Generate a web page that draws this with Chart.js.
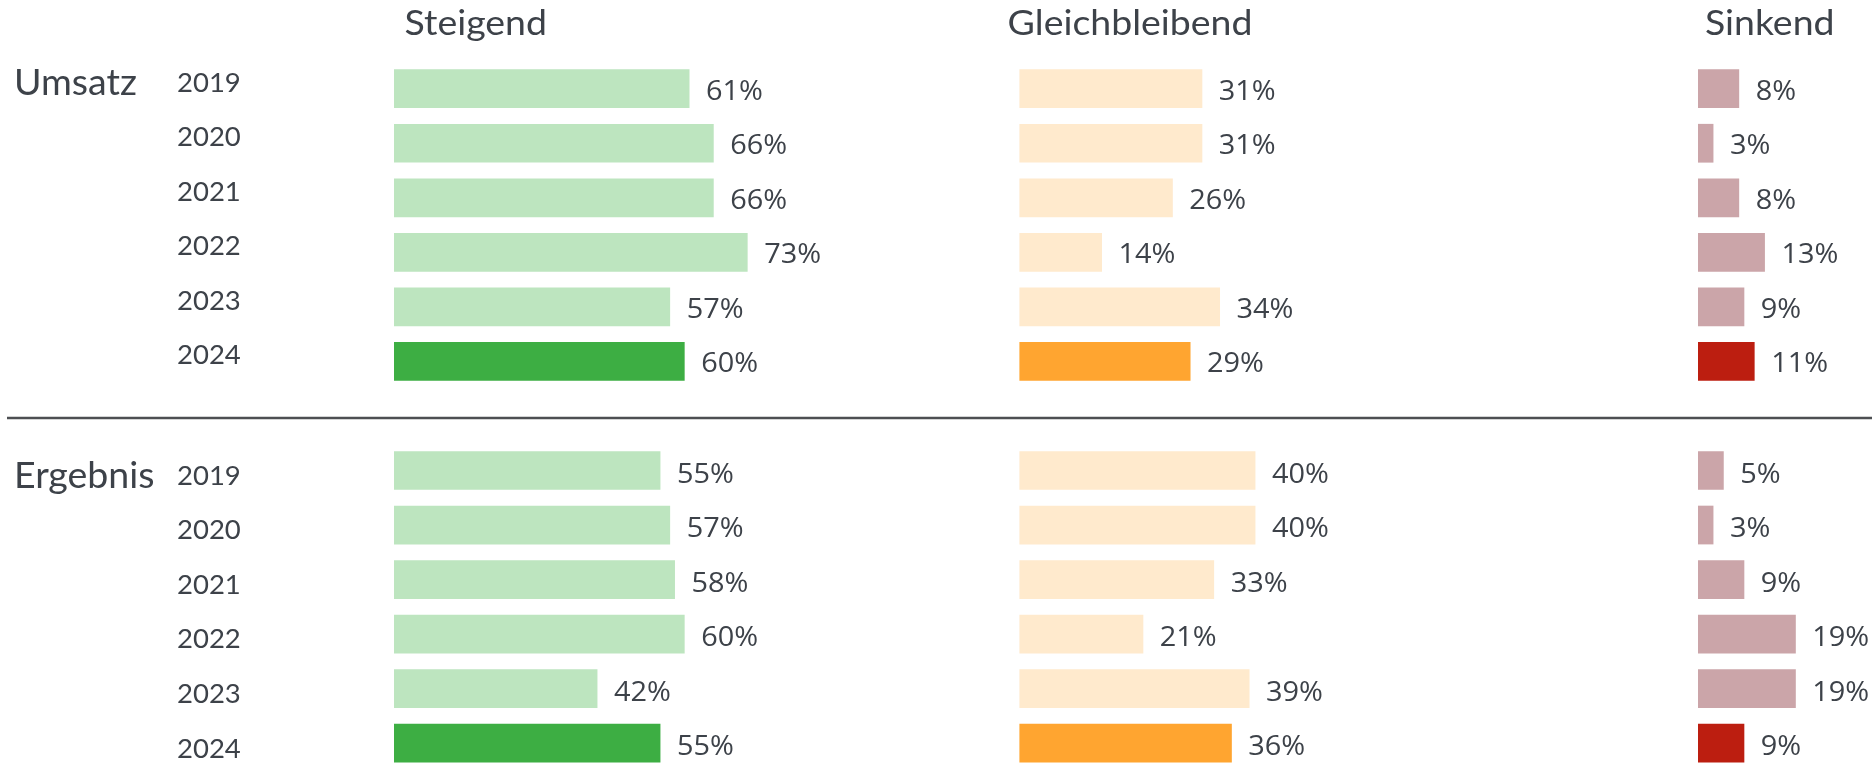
<!DOCTYPE html>
<html>
<head>
<meta charset="utf-8">
<script src="https://cdn.jsdelivr.net/npm/chart.js@4.4.1/dist/chart.umd.min.js"></script>
<style>
  html, body { margin: 0; padding: 0; background: #ffffff; overflow: hidden; }
  #wrap { position: relative; width: 1872px; height: 764px; }
</style>
</head>
<body>
<div id="wrap"><canvas id="c"></canvas></div>
<script>
// ---- data ----
const years = ['2019', '2020', '2021', '2022', '2023', '2024'];
const groups = ['Umsatz', 'Ergebnis'];
const columns = ['Steigend', 'Gleichbleibend', 'Sinkend'];

const umsatzSteigend   = [61, 66, 66, 73, 57, 60];
const umsatzGleich     = [31, 31, 26, 14, 34, 29];
const umsatzSinkend    = [8, 3, 8, 13, 9, 11];

const ergebnisSteigend = [55, 57, 58, 60, 42, 55];
const ergebnisGleich   = [40, 40, 33, 21, 39, 36];
const ergebnisSinkend  = [5, 3, 9, 19, 19, 9];

// ---- build chart structures ----
const categoryLabels = [...years, '', ...years];
const groupLabels = [groups[0], ...years.slice(1).map(() => ''), '', groups[1], ...years.slice(1).map(() => '')];
const joinGroups = (a, b) => [...a, null, ...b];
const lastYear = years[years.length - 1];

const TEXT = '#3d4249';
const LIGHT = ['#bde5bf', '#ffeacd', '#cba5a9'];
const DARK  = ['#3dae43', '#ffa530', '#bc1e10'];

const seriesData = [
  joinGroups(umsatzSteigend, ergebnisSteigend),
  joinGroups(umsatzGleich, ergebnisGleich),
  joinGroups(umsatzSinkend, ergebnisSinkend)
];

const datasets = columns.map((name, k) => ({
  label: name,
  data: seriesData[k],
  xAxisID: 'x' + (k + 1),
  yAxisID: 'y',
  grouped: false,
  clip: false,
  categoryPercentage: 1,
  barPercentage: 0.71,
  borderWidth: 0,
  backgroundColor: (ctx) => categoryLabels[ctx.dataIndex] === lastYear ? DARK[k] : LIGHT[k]
}));

function stretchedText(ctx, text, x, y, sx) {
  ctx.save();
  ctx.translate(x, y);
  ctx.scale(sx, 1);
  ctx.fillText(text, 0, 0);
  ctx.restore();
}

const valueLabels = {
  id: 'valueLabels',
  afterDatasetsDraw(chart) {
    const ctx = chart.ctx;
    ctx.save();
    ctx.font = '27px "Open Sans"';
    ctx.fillStyle = TEXT;
    ctx.textAlign = 'left';
    ctx.textBaseline = 'middle';
    chart.data.datasets.forEach((ds, di) => {
      const meta = chart.getDatasetMeta(di);
      meta.data.forEach((el, i) => {
        const v = ds.data[i];
        if (v === null || v === undefined) return;
        const dy = i < years.length ? 3.4 : 4.4;
        stretchedText(ctx, v + '%', el.x + 16.5, el.y + dy, 1.07);
      });
    });
    ctx.restore();
  }
};

const decorations = {
  id: 'decorations',
  afterDraw(chart, args, opts) {
    const ctx = chart.ctx;
    ctx.save();
    // divider between the two groups (at the empty category)
    const y = chart.scales.y.getPixelForValue(years.length) + 2;
    ctx.strokeStyle = '#4d4f52';
    ctx.lineWidth = 2.6;
    ctx.beginPath();
    ctx.moveTo(7, y);
    ctx.lineTo(chart.width, y);
    ctx.stroke();
    // column titles
    ctx.font = '35px Lato';
    ctx.fillStyle = TEXT;
    ctx.textAlign = 'center';
    ctx.textBaseline = 'alphabetic';
    columns.forEach((t, k) => stretchedText(ctx, t, opts.titleCentres[k], opts.titleBaseline, 1.07));
    ctx.restore();
  }
};

function build() {
  new Chart(document.getElementById('c'), {
    type: 'bar',
    data: { labels: categoryLabels, datasets },
    plugins: [valueLabels, decorations],
    options: {
      indexAxis: 'y',
      responsive: true,
      maintainAspectRatio: false,
      animation: false,
      events: [],
      layout: { padding: { left: 14, right: 0, top: 88.7, bottom: 20.8 } },
      plugins: {
        legend: { display: false },
        tooltip: { enabled: false },
        decorations: { titleCentres: [475.8, 1130, 1769.7], titleBaseline: 34.8 }
      },
      scales: {
        x1: { type: 'linear', position: 'bottom', stack: 'cols', stackWeight: 625.4, min: 0, max: 129.1, display: false },
        x2: { type: 'linear', position: 'bottom', stack: 'cols', stackWeight: 678.6, min: 0, max: 115, display: false },
        x3: { type: 'linear', position: 'bottom', stack: 'cols', stackWeight: 174, min: 0, max: 33.8, display: false },
        y: {
          type: 'category',
          position: 'left',
          offset: false,
          grid: { display: false, drawTicks: false },
          border: { display: false },
          ticks: {
            autoSkip: false,
            crossAlign: 'far',
            padding: 0,
            color: TEXT,
            font: (c) => ({ family: 'Lato', size: 27.5, lineHeight: c.index < years.length ? '12px' : '11px' }),
            callback: function (value, index) {
              const l = this.getLabelForValue(value);
              if (!l) return '';
              return index < years.length ? [l, ''] : ['', l];
            }
          },
          afterFit(s) { s.width = 217; }
        },
        yg: {
          type: 'category',
          labels: groupLabels,
          position: 'left',
          weight: 1,
          offset: false,
          grid: { display: false, drawTicks: false },
          border: { display: false },
          ticks: {
            autoSkip: false,
            crossAlign: 'far',
            padding: 0,
            color: TEXT,
            font: (c) => ({ family: 'Lato', size: 37.5, lineHeight: c.index < years.length ? '12px' : '10px' }),
            callback: function (value, index) {
              const l = this.getLabelForValue(value);
              if (!l) return '';
              return index < years.length ? [l, ''] : ['', l];
            }
          },
          afterFit(s) { s.width = 163; }
        }
      }
    }
  });
}

Promise.all([
  document.fonts.load('27px Lato'),
  document.fonts.load('37px Lato'),
  document.fonts.load('27px "Open Sans"')
]).then(build, build);
</script>
</body>
</html>
